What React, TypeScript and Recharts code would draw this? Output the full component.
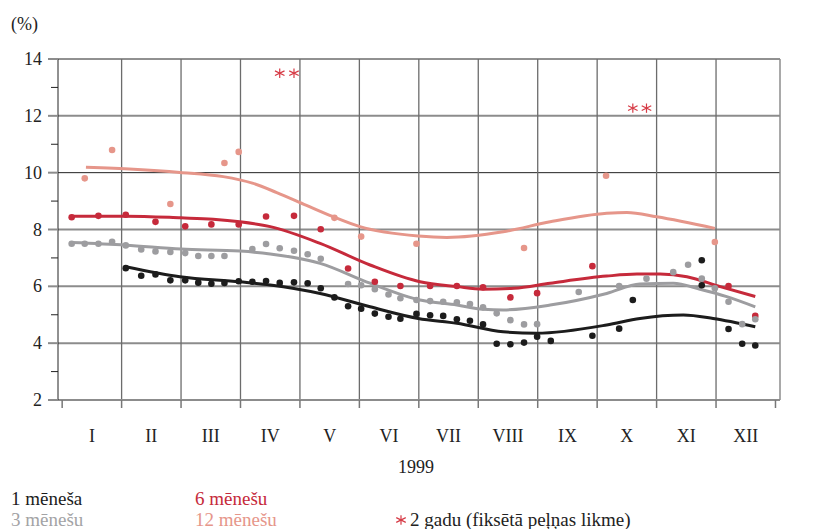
import React from 'react'
import { ComposedChart, Line, Scatter, XAxis, YAxis, ReferenceLine } from 'recharts'

const FONT = '"Liberation Serif", "Times New Roman", serif'

const MONTHS = ['I', 'II', 'III', 'IV', 'V', 'VI', 'VII', 'VIII', 'IX', 'X', 'XI', 'XII']
const Y_TICKS = [2, 3, 4, 5, 6, 7, 8, 9, 10, 11, 12, 13, 14]
const GRID_DARK = [10, 14]
const GRID_GRAY = [4, 6, 8, 12]
const MONTH_BOUNDS = [1, 2, 3, 4, 5, 6, 7, 8, 9, 10, 11]

// x is months since 1 Jan 1999, y is rate in %
const m1Dots = [
  { x: 1.07, y: 6.64 }, { x: 1.33, y: 6.37 }, { x: 1.57, y: 6.42 }, { x: 1.82, y: 6.21 },
  { x: 2.07, y: 6.21 }, { x: 2.29, y: 6.13 }, { x: 2.51, y: 6.09 }, { x: 2.73, y: 6.12 },
  { x: 2.97, y: 6.18 }, { x: 3.2, y: 6.16 }, { x: 3.43, y: 6.19 }, { x: 3.66, y: 6.12 },
  { x: 3.9, y: 6.14 }, { x: 4.13, y: 6.11 }, { x: 4.35, y: 5.93 }, { x: 4.58, y: 5.61 },
  { x: 4.81, y: 5.3 }, { x: 5.03, y: 5.21 }, { x: 5.26, y: 5.04 }, { x: 5.49, y: 4.93 },
  { x: 5.69, y: 4.86 }, { x: 5.96, y: 5.03 }, { x: 6.19, y: 4.98 }, { x: 6.41, y: 4.96 },
  { x: 6.64, y: 4.84 }, { x: 6.86, y: 4.79 }, { x: 7.08, y: 4.66 }, { x: 7.31, y: 3.98 },
  { x: 7.54, y: 3.96 }, { x: 7.77, y: 4.02 }, { x: 7.99, y: 4.23 }, { x: 8.22, y: 4.08 },
  { x: 8.92, y: 4.26 }, { x: 9.37, y: 4.51 }, { x: 9.6, y: 5.52 }, { x: 10.76, y: 6.92 },
  { x: 10.76, y: 6.04 }, { x: 11.21, y: 4.5 }, { x: 11.44, y: 3.98 }, { x: 11.66, y: 3.92 },
]
const m3Dots = [
  { x: 0.16, y: 7.5 }, { x: 0.38, y: 7.5 }, { x: 0.61, y: 7.5 }, { x: 0.84, y: 7.57 },
  { x: 1.07, y: 7.44 }, { x: 1.33, y: 7.3 }, { x: 1.57, y: 7.23 }, { x: 1.82, y: 7.21 },
  { x: 2.07, y: 7.17 }, { x: 2.29, y: 7.07 }, { x: 2.51, y: 7.07 }, { x: 2.73, y: 7.07 },
  { x: 3.2, y: 7.31 }, { x: 3.43, y: 7.49 }, { x: 3.66, y: 7.34 }, { x: 3.9, y: 7.25 },
  { x: 4.13, y: 7.13 }, { x: 4.35, y: 6.97 }, { x: 4.81, y: 6.08 }, { x: 5.03, y: 6.04 },
  { x: 5.26, y: 5.9 }, { x: 5.49, y: 5.71 }, { x: 5.69, y: 5.58 }, { x: 5.96, y: 5.52 },
  { x: 6.19, y: 5.48 }, { x: 6.41, y: 5.46 }, { x: 6.64, y: 5.44 }, { x: 6.86, y: 5.38 },
  { x: 7.08, y: 5.26 }, { x: 7.31, y: 5.05 }, { x: 7.54, y: 4.81 }, { x: 7.77, y: 4.66 },
  { x: 7.99, y: 4.67 }, { x: 8.69, y: 5.8 }, { x: 9.37, y: 6.01 }, { x: 9.83, y: 6.27 },
  { x: 10.28, y: 6.5 }, { x: 10.53, y: 6.76 }, { x: 10.76, y: 6.27 }, { x: 10.98, y: 5.93 },
  { x: 11.21, y: 5.46 }, { x: 11.44, y: 4.67 }, { x: 11.66, y: 4.84 },
]
const m6Dots = [
  { x: 0.16, y: 8.43 }, { x: 0.61, y: 8.48 }, { x: 1.07, y: 8.52 }, { x: 1.57, y: 8.27 },
  { x: 2.07, y: 8.11 }, { x: 2.51, y: 8.18 }, { x: 2.97, y: 8.18 }, { x: 3.43, y: 8.46 },
  { x: 3.9, y: 8.48 }, { x: 4.35, y: 8.01 }, { x: 4.81, y: 6.63 }, { x: 5.26, y: 6.16 },
  { x: 5.69, y: 6.01 }, { x: 6.19, y: 6.01 }, { x: 6.64, y: 6.01 }, { x: 7.08, y: 5.97 },
  { x: 7.54, y: 5.61 }, { x: 7.99, y: 5.76 }, { x: 8.92, y: 6.71 }, { x: 11.21, y: 6.01 },
  { x: 11.66, y: 4.96 },
]
const m12Dots = [
  { x: 0.38, y: 9.8 }, { x: 0.84, y: 10.8 }, { x: 1.82, y: 8.9 }, { x: 2.73, y: 10.34 },
  { x: 2.97, y: 10.73 }, { x: 4.58, y: 8.41 }, { x: 5.03, y: 7.75 }, { x: 5.96, y: 7.5 },
  { x: 7.77, y: 7.35 }, { x: 9.15, y: 9.89 }, { x: 10.98, y: 7.56 },
]
const y2Stars = [
  { x: 3.66, y: 13.5 }, { x: 3.9, y: 13.5 }, { x: 9.6, y: 12.27 }, { x: 9.83, y: 12.27 },
]

// smoothed trend lines
const m1Trend = [
  { x: 1.07, y: 6.69 }, { x: 1.98, y: 6.34 }, { x: 2.99, y: 6.16 }, { x: 3.5, y: 6.05 },
  { x: 4.34, y: 5.75 }, { x: 5.18, y: 5.28 }, { x: 5.99, y: 4.87 }, { x: 6.64, y: 4.7 },
  { x: 7.42, y: 4.4 }, { x: 7.98, y: 4.35 }, { x: 9.16, y: 4.64 }, { x: 9.72, y: 4.87 },
  { x: 10.45, y: 4.99 }, { x: 10.95, y: 4.87 }, { x: 11.66, y: 4.58 },
]
const m3Trend = [
  { x: 0.16, y: 7.54 }, { x: 1.07, y: 7.45 }, { x: 2.0, y: 7.31 }, { x: 2.99, y: 7.24 },
  { x: 3.5, y: 7.14 }, { x: 4.34, y: 6.81 }, { x: 5.18, y: 6.11 }, { x: 6.02, y: 5.52 },
  { x: 6.64, y: 5.34 }, { x: 7.08, y: 5.19 }, { x: 7.42, y: 5.17 }, { x: 8.21, y: 5.34 },
  { x: 9.16, y: 5.75 }, { x: 9.72, y: 6.08 }, { x: 10.28, y: 6.11 }, { x: 10.73, y: 5.9 },
  { x: 11.18, y: 5.64 }, { x: 11.66, y: 5.28 },
]
const m6Trend = [
  { x: 0.16, y: 8.47 }, { x: 1.08, y: 8.47 }, { x: 2.0, y: 8.41 }, { x: 2.54, y: 8.36 },
  { x: 2.99, y: 8.27 }, { x: 3.5, y: 8.1 }, { x: 4.34, y: 7.51 }, { x: 5.18, y: 6.75 },
  { x: 6.02, y: 6.16 }, { x: 6.64, y: 5.99 }, { x: 7.08, y: 5.9 }, { x: 7.6, y: 5.93 },
  { x: 8.21, y: 6.11 }, { x: 9.16, y: 6.36 }, { x: 9.67, y: 6.43 }, { x: 10.06, y: 6.43 },
  { x: 10.51, y: 6.34 }, { x: 11.07, y: 5.99 }, { x: 11.66, y: 5.64 },
]
const m12Trend = [
  { x: 0.4, y: 10.19 }, { x: 1.2, y: 10.12 }, { x: 1.98, y: 10.01 }, { x: 2.71, y: 9.86 },
  { x: 3.2, y: 9.63 }, { x: 3.61, y: 9.3 }, { x: 4.1, y: 8.86 }, { x: 4.56, y: 8.45 },
  { x: 5.01, y: 8.1 }, { x: 5.99, y: 7.77 }, { x: 6.47, y: 7.72 }, { x: 7.42, y: 7.92 },
  { x: 8.21, y: 8.27 }, { x: 9.16, y: 8.57 }, { x: 9.5, y: 8.6 }, { x: 10.0, y: 8.45 },
  { x: 10.98, y: 8.04 },
]

const C1 = '#1c1c1c'
const C3 = '#9d9da0'
const C6 = '#c62a3b'
const C12 = '#e6968a'
const STAR = '#d63a45'

const monthTicks = MONTHS.flatMap((_, i) => [i, i + 0.5]).concat(MONTHS.length)

function MonthTick({ x, y, payload }: any) {
  const v = payload.value
  if (Number.isInteger(v)) {
    return <line x1={x} x2={x} y1={y} y2={y + 8} stroke="#777" strokeWidth={1.5} />
  }
  return (
    <text x={x} y={y + 36} textAnchor="middle" dominantBaseline="central"
      fill="#222" fontSize={18} fontFamily={FONT}>
      {MONTHS[Math.floor(v)]}
    </text>
  )
}

function SideTick({ x, y, payload, side }: any) {
  const major = payload.value % 2 === 0
  const len = major ? 10 : 7
  const dir = side === 'left' ? -1 : 1
  return (
    <g>
      <line x1={x} x2={x + dir * len} y1={y} y2={y}
        stroke={major ? '#8c8c8c' : '#222'} strokeWidth={major ? 2 : 1} />
      {major && (
        <text x={side === 'left' ? x - 16 : x + 28} y={y} dominantBaseline="central"
          textAnchor={side === 'left' ? 'end' : 'start'} fill="#222" fontSize={18} fontFamily={FONT}>
          {payload.value}
        </text>
      )}
    </g>
  )
}

const dot = (color: string) => (p: any) => <circle cx={p.cx} cy={p.cy} r={3.3} fill={color} />

function Star(p: any) {
  const r = 5.5
  const arms = [90, 30, 150].map((a) => (a * Math.PI) / 180)
  return (
    <g stroke={STAR} strokeWidth={1.2}>
      {arms.map((a, i) => (
        <line key={i} x1={p.cx - r * Math.cos(a)} y1={p.cy - r * Math.sin(a) * 0.85}
          x2={p.cx + r * Math.cos(a)} y2={p.cy + r * Math.sin(a) * 0.85} />
      ))}
    </g>
  )
}

const textStyle: React.CSSProperties = {
  position: 'absolute', fontFamily: FONT, fontSize: 19, lineHeight: '19px', whiteSpace: 'nowrap',
}

export default function App() {
  return (
    <div style={{ position: 'absolute', left: 0, top: 0, width: 827, height: 529, background: '#fff', overflow: 'hidden' }}>
      <div style={{ ...textStyle, left: 11, top: 15, color: '#222', fontSize: 18 }}>(%)</div>
      <ComposedChart width={827} height={480} margin={{ top: 59, right: 0, bottom: 0, left: 0 }}>
        <XAxis dataKey="x" type="number" domain={[-0.07, 12.076]} ticks={monthTicks} interval={0}
          allowDataOverflow height={80} tickSize={0} tickMargin={0} tickLine={false}
          axisLine={{ stroke: '#8c8c8c', strokeWidth: 2 }} tick={<MonthTick />}
          label={{ value: '1999', position: 'insideBottom', offset: 7, dx: -3, fill: '#222', fontSize: 18, fontFamily: FONT }} />
        <YAxis yAxisId="l" dataKey="y" type="number" domain={[2, 14]} ticks={Y_TICKS} interval={0}
          width={58} tickSize={0} tickMargin={0} tickLine={false}
          axisLine={{ stroke: '#222', strokeWidth: 1 }} tick={<SideTick side="left" />} />
        <YAxis yAxisId="r" orientation="right" type="number" domain={[2, 14]} ticks={Y_TICKS} interval={0}
          width={47} tickSize={0} tickMargin={0} tickLine={false}
          axisLine={{ stroke: '#8c8c8c', strokeWidth: 1.5 }} tick={<SideTick side="right" />} />

        {GRID_GRAY.map((v) => (
          <ReferenceLine key={'g' + v} yAxisId="l" y={v} stroke="#8c8c8c" strokeWidth={2} />
        ))}
        {GRID_DARK.map((v) => (
          <ReferenceLine key={'d' + v} yAxisId="l" y={v} stroke="#222" strokeWidth={1} />
        ))}
        {MONTH_BOUNDS.map((v) => (
          <ReferenceLine key={'m' + v} yAxisId="l" x={v} stroke="#6c6c6c" strokeWidth={1.3} />
        ))}

        <Line yAxisId="l" data={m12Trend} dataKey="y" type="monotone" stroke={C12} strokeWidth={3} dot={false} isAnimationActive={false} />
        <Scatter yAxisId="l" data={m12Dots} fill={C12} shape={dot(C12)} isAnimationActive={false} />
        <Line yAxisId="l" data={m6Trend} dataKey="y" type="monotone" stroke={C6} strokeWidth={3} dot={false} isAnimationActive={false} />
        <Scatter yAxisId="l" data={m6Dots} fill={C6} shape={dot(C6)} isAnimationActive={false} />
        <Line yAxisId="l" data={m3Trend} dataKey="y" type="monotone" stroke={C3} strokeWidth={3} dot={false} isAnimationActive={false} />
        <Scatter yAxisId="l" data={m3Dots} fill={C3} shape={dot(C3)} isAnimationActive={false} />
        <Line yAxisId="l" data={m1Trend} dataKey="y" type="monotone" stroke={C1} strokeWidth={3} dot={false} isAnimationActive={false} />
        <Scatter yAxisId="l" data={m1Dots} fill={C1} shape={dot(C1)} isAnimationActive={false} />
        <Scatter yAxisId="l" data={y2Stars} fill={STAR} shape={Star} isAnimationActive={false} />
      </ComposedChart>

      <div style={{ ...textStyle, left: 11, top: 489, color: C1 }}>1 mēneša</div>
      <div style={{ ...textStyle, left: 195, top: 489, color: C6 }}>6 mēnešu</div>
      <div style={{ ...textStyle, left: 11, top: 510, color: '#a3a3a5' }}>3 mēnešu</div>
      <div style={{ ...textStyle, left: 195, top: 510, color: C12 }}>12 mēnešu</div>
      <div style={{ ...textStyle, left: 395, top: 510, color: '#222' }}>
        <svg width={15} height={19} style={{ verticalAlign: 'top', marginRight: 0 }}>
          <Star cx={6} cy={10} />
        </svg>
        2 gadu (fiksētā peļņas likme)
      </div>
    </div>
  )
}
